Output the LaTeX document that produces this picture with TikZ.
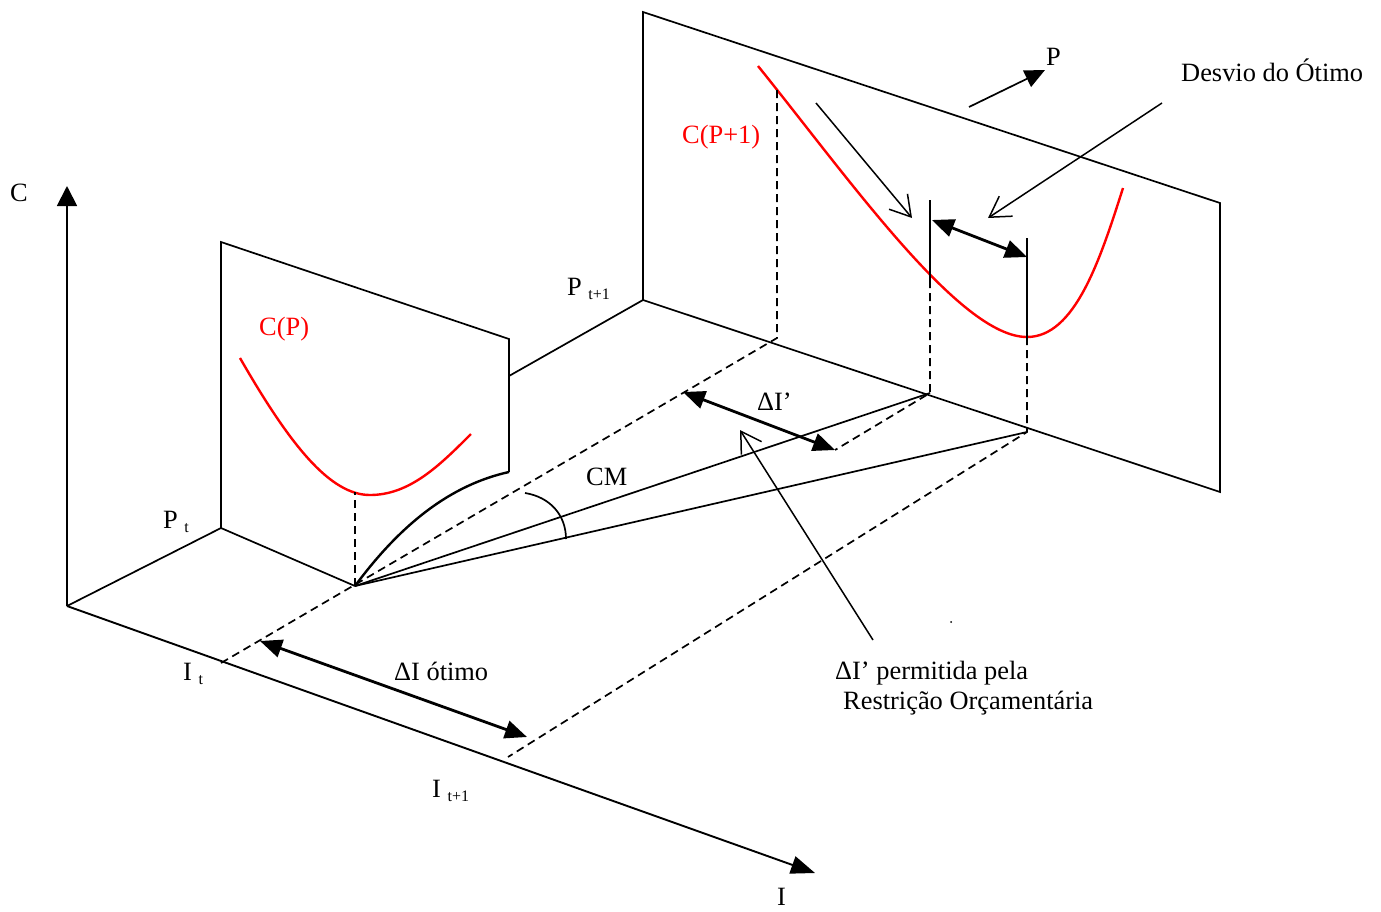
\documentclass[tikz,border=0pt]{standalone}
\usepackage{fontspec}
\setmainfont{Liberation Serif}
\usetikzlibrary{arrows.meta}
\newcommand\subtxt[1]{\raisebox{-4pt}{\fontsize{16}{16}\selectfont #1}}
\begin{document}
\begin{tikzpicture}[x=1pt,y=-1pt,
  font=\fontsize{26.4}{30}\selectfont,
  ln/.style={line width=1.7pt},
  thk/.style={line width=2.4pt},
  dsh/.style={line width=1.7pt, dash pattern=on 8pt off 5pt},
  ax/.style={line width=1.9pt, -{Triangle[length=20pt,width=20pt]}},
  dbl/.style={line width=2.8pt, {Triangle[length=22pt,width=18pt]}-{Triangle[length=22pt,width=18pt]}},
  opn/.style={line width=1.5pt, -{Straight Barb[length=20pt,width=24pt]}},
  redc/.style={red, line width=2.4pt},
  lbl/.style={anchor=base west, inner sep=0pt}]
\useasboundingbox (0,0) rectangle (1381,911);
% coordinates
\coordinate (O) at (67,606);
\coordinate (Ctip) at (67,186);
\coordinate (Itip) at (815,873);
\coordinate (Pt) at (221,528);
\coordinate (SPtl) at (221,242);
\coordinate (SPtr) at (509,339);
\coordinate (SPbr) at (509,472);
\coordinate (SPax) at (509,376);
\coordinate (V) at (355,586);
\coordinate (Pt1) at (643,300);
\coordinate (BPtl) at (643,12);
\coordinate (BPtr) at (1220,203);
\coordinate (BPbr) at (1220,492);
\coordinate (Itk) at (221,663);
\coordinate (Dtop) at (777,338);
\coordinate (Dvt) at (777,88);
\coordinate (Vmin) at (355,492);
\coordinate (Aup) at (930,200);
\coordinate (Amid) at (930,280);
\coordinate (Abot) at (930,393);
\coordinate (Bup) at (1027,238);
\coordinate (Bmid) at (1027,337);
\coordinate (Bbot) at (1027,432);
\coordinate (Dpl) at (683,392);
\coordinate (Dpr) at (835,450);
\coordinate (It1k) at (508,757);
\coordinate (Dol) at (260,641);
\coordinate (Dor) at (527,737);
\coordinate (Dsl) at (932,220);
\coordinate (Dsr) at (1027,257);
\coordinate (Pa) at (969,107);
\coordinate (Pb) at (1045,70);
\coordinate (Oa1) at (816,103);
\coordinate (Ob1) at (912,218);
\coordinate (Oa2) at (1162,103);
\coordinate (Ob2) at (988,218);
\coordinate (Oa3) at (873,640);
\coordinate (Ob3) at (740,430);
\coordinate (CMa) at (525,493);
\coordinate (CMb) at (566,539);
% axes
\draw[ax] (O) -- (Ctip);
\draw[ax,-{Triangle[length=24pt,width=18pt]}] (O) -- (Itip);
\draw[ln] (O) -- (Pt);
\draw[ln] (SPax) -- (Pt1);
% small plane
\draw[ln] (V) -- (Pt) -- (SPtl) -- (SPtr) -- (SPbr);
\draw[thk] (V) .. controls (400,525) and (450,485) .. (SPbr);
% big plane
\draw[ln] (Pt1) -- (BPtl) -- (BPtr) -- (BPbr) -- cycle;
% red curves
\draw[redc] (240,358) .. controls (290,445) and (330,495) .. (370,495) .. controls (410,495) and (440,465) .. (471,434);
\draw[redc] (758,66) .. controls (850,180) and (960,337) .. (1027,337) .. controls (1075,337) and (1100,260) .. (1123,188);
% dashed lines
\draw[dsh] (Itk) -- (Dtop) -- (Dvt);
\draw[dsh] (V) -- (Vmin);
\draw[dsh] (Amid) -- (Abot) -- (Dpr);
\draw[dsh] (Bmid) -- (Bbot) -- (It1k);
% solid verticals
\draw[ln] (Aup) -- (Amid);
\draw[ln] (Bup) -- (Bmid);
% CM lines
\draw[ln] (V) -- (Abot);
\draw[ln] (V) -- (Bbot);
\draw[ln] (CMa) .. controls (550,497) and (566,515) .. (CMb);
% arrows
\draw[dbl] (Dsl) -- (Dsr);
\draw[dbl] (Dpl) -- (Dpr);
\draw[dbl] (Dol) -- (Dor);
\draw[ln,-{Triangle[length=20pt,width=18pt]}] (Pa) -- (Pb);
\draw[opn] (Oa1) -- (Ob1);
\draw[opn] (Oa2) -- (Ob2);
\draw[opn] (Oa3) -- (Ob3);
\fill (951,622) circle (1pt);
% labels
\node[lbl] (lC) at (10,201) {C};
\node[lbl] (lPt) at (163,528) {P~\subtxt{t}};
\node[lbl] (lPt1) at (567,295) {P~\subtxt{t+1}};
\node[lbl] (lIt) at (183,680) {I~\subtxt{t}};
\node[lbl] (lIt1) at (432,797) {I~\subtxt{t+1}};
\node[lbl] (lI) at (777,905) {I};
\node[lbl,red] (lCP) at (259,335) {C(P)};
\node[lbl,red] (lCP1) at (682,143) {C(P+1)};
\node[lbl] (lP) at (1046,65) {P};
\node[lbl] (lDes) at (1181,81) {Desvio do Ótimo};
\node[lbl] (lDI) at (757,410) {ΔI’};
\node[lbl] (lCM) at (586,485) {CM};
\node[lbl] (lDo) at (394,680) {ΔI ótimo};
\node[lbl] (lPerm) at (835,679) {ΔI’ permitida pela};
\node[lbl] (lRes) at (843,709) {Restrição Orçamentária};
\end{tikzpicture}
\end{document}
